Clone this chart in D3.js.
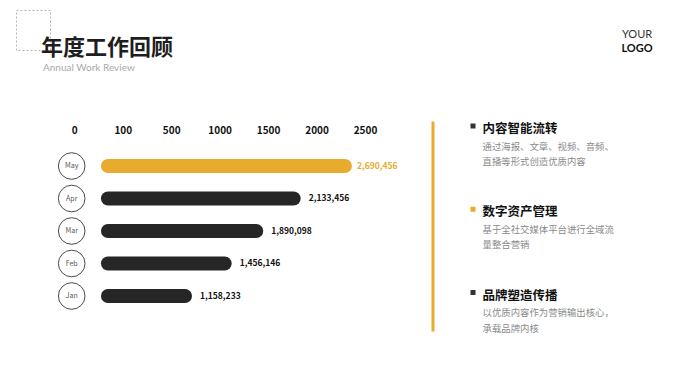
<!DOCTYPE html>
<html><head><meta charset="utf-8">
<script src="https://cdn.jsdelivr.net/npm/d3@7"></script>
<style>
html,body{margin:0;padding:0;background:#fff;}
svg{display:block;font-family:"Noto Sans CJK SC","Noto Sans",sans-serif;}
</style></head>
<body>
<svg id="chart" width="680" height="383"></svg>
<script>
// ---- data ----
const months = ["May", "Apr", "Mar", "Feb", "Jan"];
const values = [2690456, 2133456, 1890098, 1456146, 1158233];
const tickLabels = [0, 100, 500, 1000, 1500, 2000, 2500];
// bar ends read against the displayed axis (axis units)
const barEnds = [2365, 1836, 1450, 1124, 715];
const barStart = 55;
const highlight = ["May"];
const headings = ["内容智能流转", "数字资产管理", "品牌塑造传播"];
const descLine1 = ["通过海报、文章、视频、音频、", "基于全社交媒体平台进行全域流", "以优质内容作为营销输出核心，"];
const descLine2 = ["直播等形式创造优质内容", "量整合营销", "承载品牌内核"];
const bulletHighlight = [false, true, false];

const gold = "#E9AB2E", dark = "#262626";
const svg = d3.select("#chart");

// ---- header ----
svg.append("rect").attr("x", 16.5).attr("y", 10.5).attr("width", 34).attr("height", 40)
  .attr("fill", "none").attr("stroke", "#b5b5b5").attr("stroke-dasharray", "2,2");
svg.append("text").attr("x", 41).attr("y", 55).attr("font-size", 22).attr("font-weight", 700)
  .attr("fill", "#1e1e1e").text("年度工作回顾");
svg.append("text").attr("x", 43).attr("y", 71).attr("font-size", 10).attr("fill", "#a9a9a9")
  .attr("font-family", "Lato, 'Noto Sans', sans-serif").text("Annual Work Review");
svg.append("text").attr("x", 637).attr("y", 38).attr("text-anchor", "middle").attr("font-size", 11)
  .attr("font-family", "Lato, sans-serif").attr("fill", "#333").text("YOUR");
svg.append("text").attr("x", 637).attr("y", 52).attr("text-anchor", "middle").attr("font-size", 11)
  .attr("font-family", "Lato, sans-serif").attr("font-weight", 700).attr("fill", "#111").text("LOGO");

// ---- scales ----
const tickStep = (365 - 74.3) / (tickLabels.length - 1);
const x = d3.scaleLinear().domain(tickLabels)
  .range(tickLabels.map((d, i) => 74.3 + i * tickStep));
const y = d3.scalePoint().domain(months).range([166, 296]);

// axis (top labels only)
const axis = d3.axisTop(x).tickValues(tickLabels).tickSize(0).tickPadding(0).tickFormat(d => d);
const ag = svg.append("g").attr("transform", "translate(0,134)").call(axis);
ag.select(".domain").remove();
ag.selectAll("text").attr("font-size", 10).attr("font-weight", 700).attr("fill", "#111")
  .attr("font-family", "'Noto Sans CJK SC','Noto Sans',sans-serif");

// rows
const rows = svg.append("g").selectAll("g").data(months).join("g");
rows.append("circle").attr("cx", 71.7).attr("cy", d => y(d)).attr("r", 13.3)
  .attr("fill", "#fff").attr("stroke", "#4a4a4a").attr("stroke-width", 1);
rows.append("text").attr("x", 71.7).attr("y", d => y(d)).attr("dy", "0.35em")
  .attr("text-anchor", "middle").attr("font-size", 7).attr("fill", "#555").text(d => d);

const bh = 14;
rows.append("rect")
  .attr("x", x(barStart))
  .attr("y", d => y(d) - bh / 2)
  .attr("width", (d, i) => x(barEnds[i]) - x(barStart))
  .attr("height", bh).attr("rx", 7).attr("ry", 7)
  .attr("fill", d => highlight.includes(d) ? gold : dark);
rows.append("text")
  .attr("x", (d, i) => x(barEnds[i]) + (highlight.includes(d) ? 5 : 8))
  .attr("y", d => y(d)).attr("dy", "0.35em")
  .attr("font-size", 8.5).attr("font-weight", 700)
  .attr("fill", d => highlight.includes(d) ? gold : "#111")
  .text((d, i) => d3.format(",")(values[i]));

// divider
svg.append("rect").attr("x", 431.5).attr("y", 121.5).attr("width", 3).attr("height", 210).attr("fill", gold);

// right side text blocks
const by = d3.scalePoint().domain(d3.range(headings.length)).range([133, 299.5]);
const blocks = svg.append("g").selectAll("g").data(headings).join("g")
  .attr("transform", (d, i) => `translate(0,${by(i)})`);
blocks.append("rect").attr("x", 470.5).attr("y", -9.5).attr("width", 5).attr("height", 5)
  .attr("fill", (d, i) => bulletHighlight[i] ? gold : "#333");
blocks.append("text").attr("x", 482.5).attr("y", 0).attr("font-size", 12.5).attr("font-weight", 700)
  .attr("fill", "#111").text(d => d);
blocks.append("text").attr("x", 482.5).attr("y", 16.5).attr("font-size", 9.4).attr("fill", "#8a8a8a")
  .text((d, i) => descLine1[i]);
blocks.append("text").attr("x", 482.5).attr("y", 32).attr("font-size", 9.4).attr("fill", "#8a8a8a")
  .text((d, i) => descLine2[i]);
</script>
</body></html>
